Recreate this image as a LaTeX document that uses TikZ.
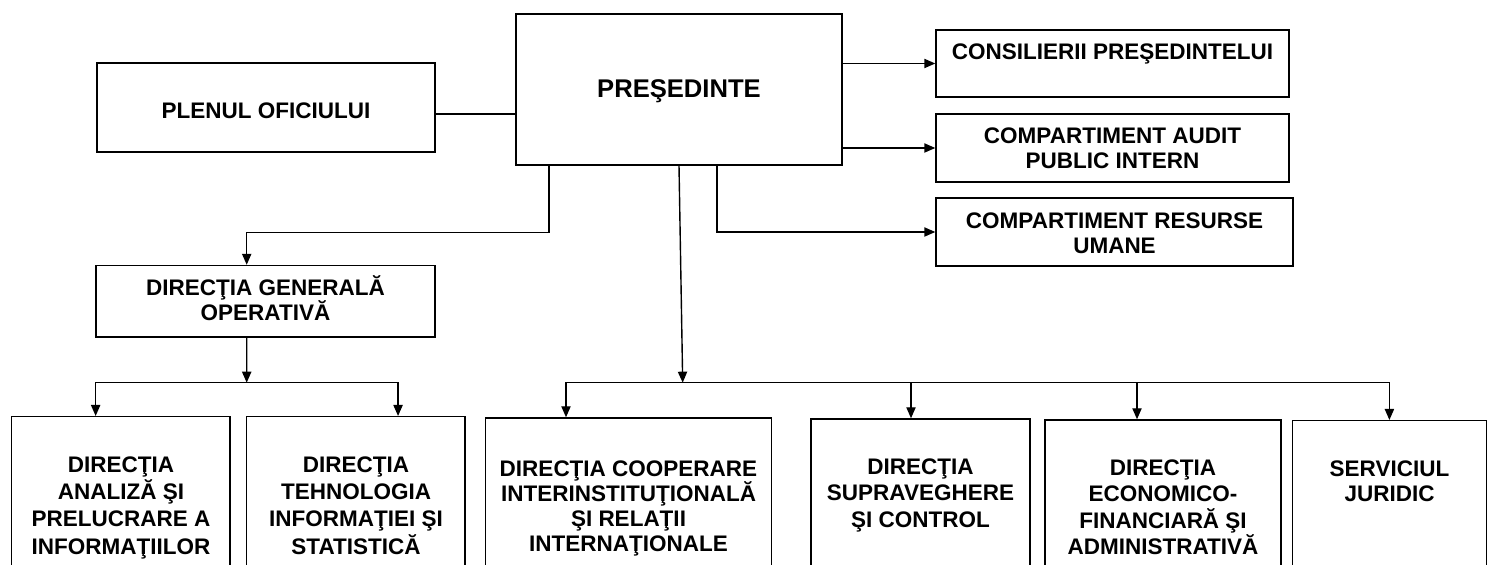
\documentclass[tikz,border=0pt]{standalone}
\usepackage{fontspec}
\setmainfont{Liberation Sans}
\usetikzlibrary{arrows.meta,fit}
\begin{document}
\begin{tikzpicture}[x=0.5pt,y=-0.5pt,
  box/.style={draw, line width=0.7pt, inner sep=0pt, rectangle},
  lbl/.style={font=\bfseries\fontsize{11.25}{#1}\selectfont, align=center, inner sep=0pt, anchor=north},
  lbl/.default=13.25,
  arr/.style={line width=0.7pt, -{Triangle[length=5.5pt,width=4.6pt]}},
  ln/.style={line width=0.7pt}]
\useasboundingbox (0,0) rectangle (1487,565);
\clip (0,0) rectangle (1487,565);
% boxes
\node[box, fit={(516,14) (842,165)}] (pres) {};
\node[box, fit={(97,63) (435,152)}] (plen) {};
\node[box, fit={(936,30) (1289,97)}] (cons) {};
\node[box, fit={(936,114) (1289,182)}] (audit) {};
\node[box, fit={(936,198) (1293,266)}] (res) {};
\node[box, fit={(96,265.5) (435,337)}] (dgo) {};
\node[box, fit={(11.7,416.7) (230,600)}] (b1) {};
\node[box, fit={(246.7,416.7) (465,600)}] (b2) {};
\node[box, fit={(485.5,418) (771.5,600)}] (b3) {};
\node[box, fit={(811,419) (1030,600)}] (b4) {};
\node[box, fit={(1045,420) (1281,600)}] (b5) {};
\node[box, fit={(1292.3,420.7) (1486.5,600)}] (b6) {};
% texts
\node[lbl, font=\bfseries\fontsize{12.8}{15}\selectfont] (tpres) at (679,73) {\rule{0pt}{12pt}PREŞEDINTE};
\node[lbl] (tplen) at (266,94.5) {\rule{0pt}{12pt}PLENUL OFICIULUI};
\node[lbl] (tcons) at (1112.5,35.3) {\rule{0pt}{12pt}CONSILIERII PREŞEDINTELUI};
\node[lbl=12.5] (taudit) at (1112.5,119.3) {\rule{0pt}{12pt}COMPARTIMENT AUDIT\\PUBLIC INTERN};
\node[lbl=12.5] (tres) at (1114.5,203.7) {\rule{0pt}{12pt}COMPARTIMENT RESURSE\\UMANE};
\node[lbl=12.5] (tdgo) at (265.5,271) {\rule{0pt}{12pt}DIRECŢIA GENERALĂ\\OPERATIVĂ};
\node[lbl=13.7] (tb1) at (121,447.7) {\rule{0pt}{12pt}DIRECŢIA\\ANALIZĂ ŞI\\PRELUCRARE A\\INFORMAŢIILOR};
\node[lbl=13.7] (tb2) at (356,447.7) {\rule{0pt}{12pt}DIRECŢIA\\TEHNOLOGIA\\INFORMAŢIEI ŞI\\STATISTICĂ};
\node[lbl=12.6] (tb3) at (628.5,452) {\rule{0pt}{12pt}DIRECŢIA COOPERARE\\INTERINSTITUŢIONALĂ\\ŞI RELAŢII\\INTERNAŢIONALE};
\node[lbl] (tb4) at (920.5,450) {\rule{0pt}{12pt}DIRECŢIA\\SUPRAVEGHERE\\ŞI CONTROL};
\node[lbl] (tb5) at (1163,451) {\rule{0pt}{12pt}DIRECŢIA\\ECONOMICO-\\FINANCIARĂ ŞI\\ADMINISTRATIVĂ};
\node[lbl=12.5] (tb6) at (1389.5,452) {\rule{0pt}{12pt}SERVICIUL\\JURIDIC};
% junctions
\coordinate (j1) at (246.7,382.7);
\coordinate (j2) at (682.7,382.7);
% connectors
\draw[ln] ([yshift=-3.25pt]plen.east) -- ([yshift=-3.25pt]plen.east -| pres.west);
\draw[arr] (cons.west -| pres.east) -- (cons.west);
\draw[arr] (audit.west -| pres.east) -- (audit.west);
\draw[arr] ([xshift=19pt]pres.south) |- (res.west);
\draw[arr] ([xshift=-65pt]pres.south) -- ++(0,67) -| ([xshift=-9.4pt]dgo.north);
\draw[arr] ([xshift=-9.4pt]dgo.south) -- (j1);
\draw[arr] (j1) -| ([xshift=-12.6pt]b1.north);
\draw[arr] (j1) -| ([xshift=21.1pt]b2.north);
\draw[arr] (pres.south) -- (j2);
\draw[arr] (j2) -| ([xshift=-31.25pt]b3.north);
\draw[arr] (j2) -| (b6.north);
\draw[arr] ([xshift=-4.75pt]b4.north |- j2) -- ([xshift=-4.75pt]b4.north);
\draw[arr] ([xshift=-13pt]b5.north |- j2) -- ([xshift=-13pt]b5.north);
\end{tikzpicture}
\end{document}
